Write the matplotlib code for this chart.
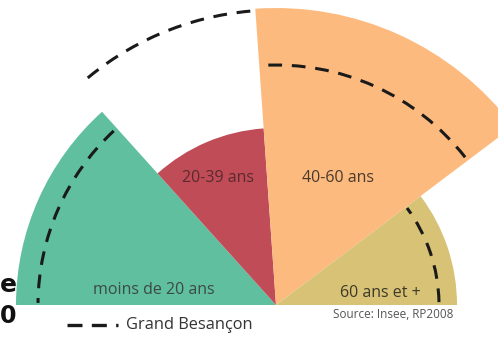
import matplotlib
matplotlib.use("Agg")
import matplotlib.pyplot as plt
from matplotlib.patches import Wedge, Arc
from matplotlib.lines import Line2D

# ---- data ----
categories = ["moins de 20 ans", "20-39 ans", "40-60 ans", "60 ans et +"]
angle_span = [48, 38, 57, 37]            # degrees, left to right
besancon = [260, 177, 297, 181]          # radius of each sector
grand_besancon = [238, 295, 240, 163]    # radius of dashed reference arcs
legend_label = "Grand Besançon"
source = "Source: Insee, RP2008"

# ---- style ----
colors = ["#5fbf9f", "#c04c57", "#fdba7e", "#d7c275"]
label_pos = [(-122, 15), (-58, 127), (62, 127), (104, 12)]
label_colors = ["#3c4a44", "#5a2a2e", "#4a3a2c", "#3e3a2a"]

fig = plt.figure(figsize=(4.98, 3.38), dpi=100)
ax = fig.add_axes([0, 0, 1, 1])
ax.set_xlim(-276, 222)
ax.set_ylim(-33, 305)
ax.set_aspect("equal")
ax.axis("off")

theta_hi = 180
for cat, span, r, g, c in zip(categories, angle_span, besancon, grand_besancon, colors):
    theta_lo = theta_hi - span
    ax.add_patch(Wedge((0, 0), r, theta_lo, theta_hi, facecolor=c, edgecolor="none"))
    ax.add_patch(Arc((0, 0), 2 * g, 2 * g, theta1=theta_lo + 1, theta2=theta_hi - 0.5,
                     color="#1a1a1a", lw=2.2, linestyle=(0, (4.5, 3.2)), zorder=3))
    theta_hi = theta_lo

for cat, (x, y), tc in zip(categories, label_pos, label_colors):
    ax.text(x, y, cat, ha="center", va="center", fontsize=11.5, color=tc,
            family="Open Sans", zorder=4)

# legend
ax.add_line(Line2D([-209, -158], [-20, -20], color="#1a1a1a", lw=2.4,
                   linestyle=(0, (4.5, 2.8))))
ax.text(-150, -20, legend_label, ha="left", va="center", fontsize=11.8,
        color="#333333", family="Open Sans")
ax.text(117, -10, source, ha="center", va="center", fontsize=8.5,
        color="#555555", family="Open Sans")

# partial characters at left edge
ax.text(-276, 20, "e", ha="left", va="center", fontsize=18, fontweight="bold",
        color="#111111")
ax.text(-276, -11, "0", ha="left", va="center", fontsize=17, fontweight="bold",
        color="#111111")

fig.savefig("out.png", dpi=100, facecolor="white")
